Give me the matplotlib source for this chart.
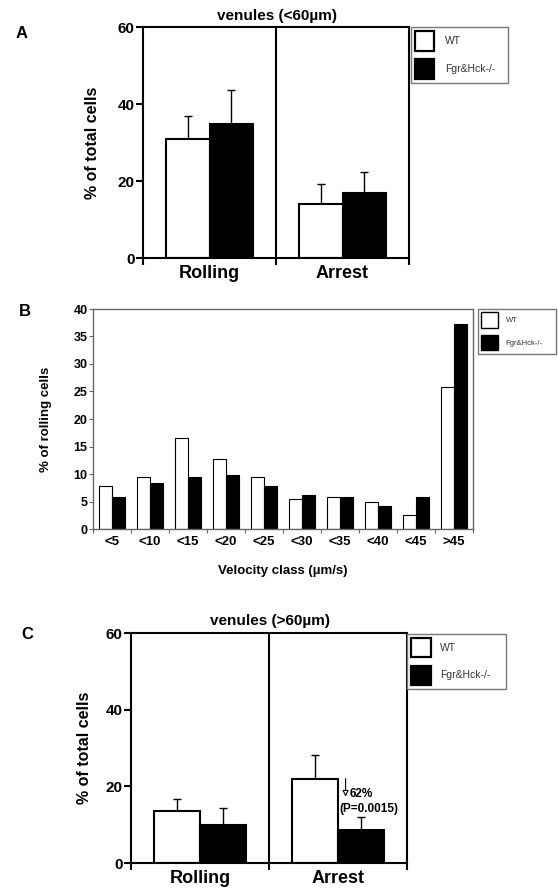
import numpy as np
import matplotlib
matplotlib.use("Agg")
import matplotlib.pyplot as plt
from matplotlib.patches import Patch

plt.rcParams['font.family'] = ['Liberation Sans', 'DejaVu Sans']

# ---------------- data ----------------
groups = ["Rolling", "Arrest"]
series_names = ["WT", "Fgr&Hck-/-"]

# Panel A: venules (<60um)
a_wt = [31.0, 13.9]
a_wt_err = [6.0, 5.4]
a_ko = [34.8, 17.0]
a_ko_err = [8.9, 5.3]

# Panel B: velocity classes
vel_classes = ["<5", "<10", "<15", "<20", "<25", "<30", "<35", "<40", "<45", ">45"]
b_wt = [7.9, 9.5, 16.5, 12.8, 9.45, 5.4, 5.75, 4.9, 2.5, 25.8]
b_ko = [5.75, 8.4, 9.4, 9.9, 7.8, 6.2, 5.75, 4.1, 5.75, 37.3]

# Panel C: venules (>60um)
c_wt = [13.5, 22.0]
c_wt_err = [3.2, 6.3]
c_ko = [10.0, 8.7]
c_ko_err = [4.3, 3.4]

W, H = 558, 888
fig = plt.figure(figsize=(W / 100, H / 100), dpi=100)


def fx(px):
    return px / W


def fy(py):
    return 1 - py / H


def add_axes_px(left, top, right, bottom):
    return fig.add_axes([fx(left), fy(bottom), (right - left) / W, (bottom - top) / H])


def make_legend(ax, x0, y0, x1, fs, hl, hh, ls, bp, hp, hlw):
    handles = [Patch(facecolor='white', edgecolor='black', lw=hlw),
               Patch(facecolor='black', edgecolor='black', lw=hlw)]
    leg = ax.legend(handles, series_names, loc='upper left',
                    bbox_to_anchor=(fx(x0), fy(y0), fx(x1) - fx(x0), 0),
                    bbox_transform=fig.transFigure, mode='expand', borderaxespad=0,
                    prop={'size': fs}, handlelength=hl, handleheight=hh,
                    labelspacing=ls, borderpad=bp, handletextpad=hp,
                    fancybox=False, frameon=True, framealpha=1)
    leg.get_frame().set_edgecolor('#777777')
    leg.get_frame().set_linewidth(1.0)
    for t in leg.get_texts():
        t.set_color('#333333')
    return leg


def two_group_panel(ax, wt, wt_err, ko, ko_err, width, ylabelpad):
    x = np.arange(len(groups)) + 0.5
    ax.errorbar(x - width / 2, wt, yerr=[np.zeros(len(wt)), wt_err], fmt='none',
                ecolor='black', elinewidth=1.0, capsize=3, capthick=1.0, zorder=1)
    ax.errorbar(x + width / 2, ko, yerr=[np.zeros(len(ko)), ko_err], fmt='none',
                ecolor='black', elinewidth=1.0, capsize=3, capthick=1.0, zorder=1)
    ax.bar(x - width / 2, wt, width, color='white', edgecolor='black', lw=1.5, zorder=2)
    ax.bar(x + width / 2, ko, width, color='black', edgecolor='black', lw=1.5, zorder=2)
    ax.axvline(1, color='black', lw=1.5, zorder=3)
    ax.set_xlim(0, 2)
    ax.set_ylim(0, 60)
    ax.set_yticks([0, 20, 40, 60])
    ax.set_xticks(x)
    ax.set_xticklabels(groups, fontsize=13, fontweight='bold')
    ax.set_xticks([0, 1, 2], minor=True)
    ax.tick_params(axis='x', which='major', length=0, pad=5)
    ax.tick_params(axis='x', which='minor', length=5, width=1.5, direction='out')
    ax.tick_params(axis='y', length=5, width=1.5, direction='out', pad=1)
    for lab in ax.get_yticklabels():
        lab.set_fontsize(11)
        lab.set_fontweight('bold')
    for s in ax.spines.values():
        s.set_linewidth(1.5)
    ax.set_ylabel('% of total cells', fontsize=11.5, fontweight='bold', labelpad=ylabelpad)


# ---------------- Panel A ----------------
axA = add_axes_px(143, 27, 409, 258)
two_group_panel(axA, a_wt, a_wt_err, a_ko, a_ko_err, 0.33, 13)
make_legend(axA, 411, 27, 508, 7.5, 1.85, 2.58, 0.77, 0.4, 1.0, 1.6)
fig.text(fx(277), fy(16), 'venules (<60µm)', ha='center', va='center',
         fontsize=11, fontweight='bold')
fig.text(fx(22), fy(33), 'A', ha='center', va='center', fontsize=12, fontweight='bold')

# ---------------- Panel B ----------------
axB = add_axes_px(93, 309, 473, 529)
xb = np.arange(len(vel_classes))
bw = 0.34
axB.bar(xb - bw / 2, b_wt, bw, color='white', edgecolor='black', lw=0.8)
axB.bar(xb + bw / 2, b_ko, bw, color='black', edgecolor='black', lw=0.8)
axB.set_xlim(-0.5, len(vel_classes) - 0.5)
axB.set_ylim(0, 40)
axB.set_yticks(np.arange(0, 41, 5))
axB.set_xticks(xb)
axB.set_xticklabels(vel_classes, fontsize=9.5, fontweight='bold')
axB.set_xticks(np.arange(-0.5, len(vel_classes), 1.0), minor=True)
axB.tick_params(axis='x', which='major', length=0, pad=5)
axB.tick_params(axis='x', which='minor', length=3, width=0.8, color='#666666')
axB.tick_params(axis='y', length=3, width=0.8, color='#666666', pad=1)
for lab in axB.get_yticklabels():
    lab.set_fontsize(9)
    lab.set_fontweight('bold')
for s in axB.spines.values():
    s.set_linewidth(1.0)
    s.set_color('#666666')
axB.set_ylabel('% of rolling cells', fontsize=9.5, fontweight='bold', labelpad=15)
axB.set_xlabel('Velocity class (µm/s)', fontsize=9.5, fontweight='bold', labelpad=12)
make_legend(axB, 478, 309, 556, 5.5, 2.2, 2.84, 0.85, 0.4, 1.0, 1.0)
fig.text(fx(25), fy(311), 'B', ha='center', va='center', fontsize=12, fontweight='bold')

# ---------------- Panel C ----------------
axC = add_axes_px(131, 633, 407, 863)
two_group_panel(axC, c_wt, c_wt_err, c_ko, c_ko_err, 0.335, 10)
make_legend(axC, 407, 634, 506, 7.5, 1.92, 2.43, 0.82, 0.4, 0.85, 1.6)
fig.text(fx(270), fy(621), 'venules (>60µm)', ha='center', va='center',
         fontsize=11, fontweight='bold')
fig.text(fx(27), fy(634), 'C', ha='center', va='center', fontsize=12, fontweight='bold')
axC.annotate('', xy=(1.555, 17.3), xytext=(1.555, 22.0),
             arrowprops=dict(arrowstyle='-|>', fc='white', ec='black', lw=0.8,
                             mutation_scale=9, shrinkA=0, shrinkB=0))
axC.text(1.585, 18.0, '62%', fontsize=8.5, fontweight='bold', ha='left', va='center')
axC.text(1.51, 14.1, '(P=0.0015)', fontsize=8.5, fontweight='bold', ha='left', va='center')

fig.savefig('out.png', dpi=100)
